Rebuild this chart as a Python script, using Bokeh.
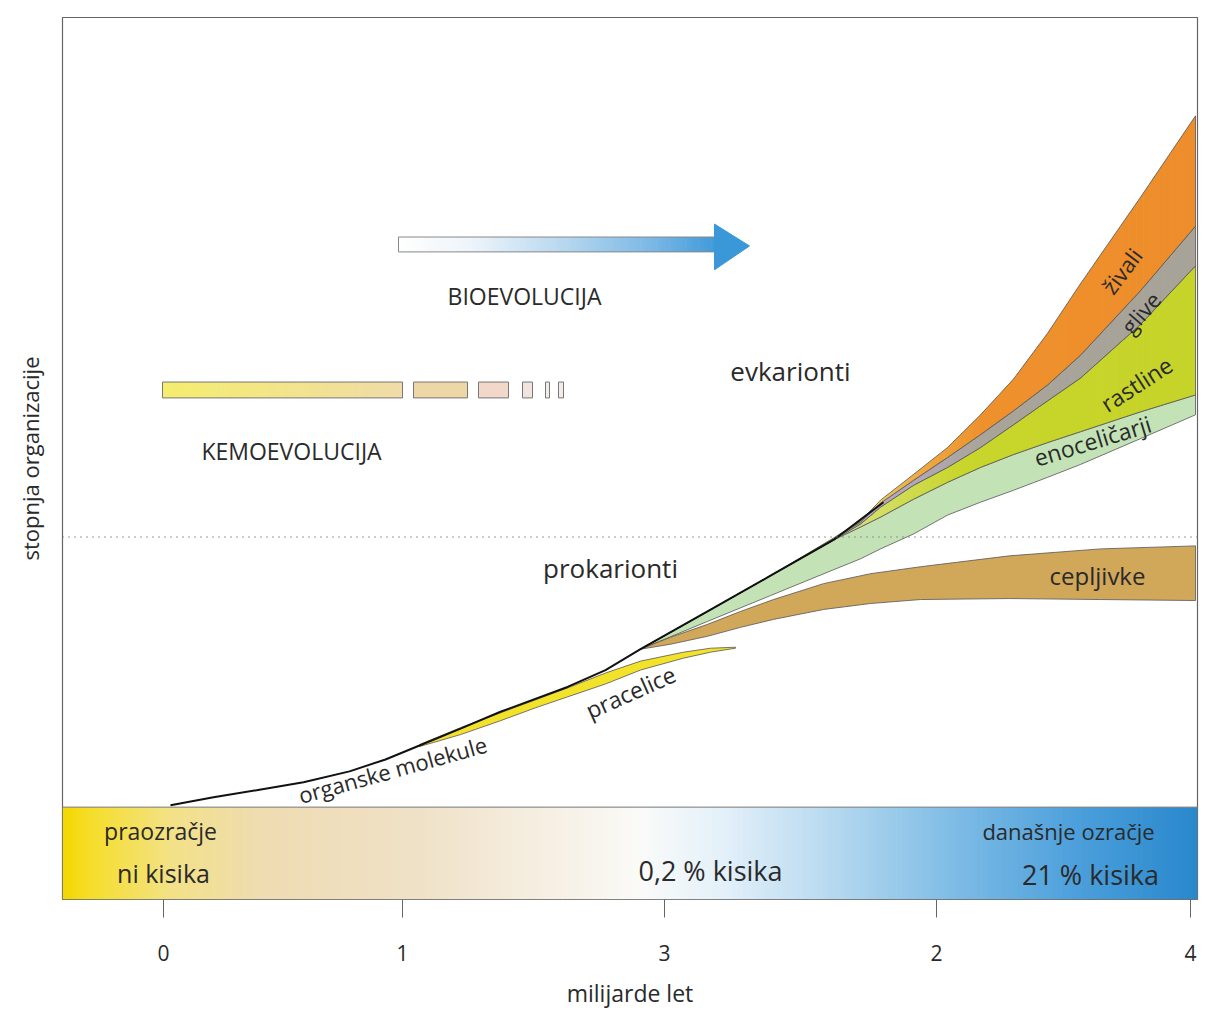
import numpy as np
from bokeh.plotting import figure
from bokeh.models import Range1d, FixedTicker, ColumnDataSource, Span
from bokeh.core.properties import value
from bokeh.embed import file_html
from bokeh.resources import INLINE

# ---------------- data (schematic positions) ----------------
tick_pos = [163, 402, 664, 936, 1190]
tick_labels = ["0", "1", "3", "2", "4"]

# organske molekule (black line)
mol_x = [170, 213, 256, 303, 349, 385, 419, 460, 500, 567, 605, 640, 707, 770, 833, 883]
mol_y = [810, 802, 795, 787, 776, 764, 750, 733, 716, 691, 674, 653, 615, 579, 543, 505]

# pracelice (yellow sliver)
prac_x = [419, 460, 500, 535, 567, 605, 640, 683, 710, 735]
prac_top = [749, 732, 717, 704, 692, 677, 665, 656, 652, 651]
prac_bot = [751, 739, 725, 712, 701, 688, 674, 662, 656, 652]

# cepljivke
cep_x = [640, 670, 707, 740, 773, 823, 870, 920, 1009, 1100, 1195]
cep_top = [653, 641, 628, 615, 603, 587, 577, 570, 559, 552, 549]
cep_bot = [653, 648, 640, 631, 623, 613, 607, 603, 602, 603, 604]

# eukaryote fan
fan_x = [640, 707, 770, 833, 860, 880, 913, 947, 980, 1013, 1047, 1080, 1140, 1195]
eno_bot = [653, 625, 599, 573, 562, 552, 537, 518, 505, 493, 480, 467, 441, 417]
eno_top = [653, 615, 579, 543, 530, 520, 502, 485, 470, 457, 445, 434, 414, 397]
rast_top = [653, 615, 579, 543, 527, 510, 488, 470, 450, 427, 403, 380, 326, 267]
glive_top = [653, 615, 579, 542, 525, 506, 483, 460, 437, 413, 387, 357, 292, 227]
zival_top = [653, 615, 579, 541, 524, 503, 477, 450, 417, 381, 335, 285, 198, 116]

# kemoevolucija bars
kemo_left = [162, 413, 478, 522, 545, 558]
kemo_right = [402, 467, 508, 532, 549, 563]
kemo_colors = [None, "#eed7a6", "#f1d8c8", "#f2e4dc", "#f3ebe5", "#f3ebe5"]
kemo_y = (384, 400)

# bioevolucija arrow
arrow_shaft = (398, 717, 238, 253)
arrow_head_x = [714, 749, 714]
arrow_head_y = [225, 247, 271]

# atmosphere bar
atm_x = (62, 1197)
atm_y = (812, 905)
divider_y = 540

labels = dict(
    text=["BIOEVOLUCIJA", "KEMOEVOLUCIJA",
          "evkarionti", "prokarionti", "cepljivke", "živali", "glive", "rastline",
          "enoceličarji", "organske molekule", "pracelice",
          "praozračje", "ni kisika", "0,2 % kisika", "današnje ozračje", "21 % kisika"],
    x=[524, 291, 790, 610, 1097, 1121, 1140, 1136, 1092, 392, 630, 160, 163, 710, 1068, 1090],
    y=[297, 453, 373, 571, 579, 272, 314, 386, 443, 774, 696, 836, 878, 876, 836, 880],
    angle=[0, 0, 0, 0, 0, 53, 49, 33, 17, 15.5, 24, 0, 0, 0, 0, 0],
    size=["23px", "23px", "26px", "26px", "24px", "22px", "22px", "23px", "23px", "22px",
          "23px", "23px", "25px", "27px", "22px", "27px"])

# ---------------- figure ----------------
W, H = 1201, 1011
p = figure(width=W, height=H, x_range=Range1d(62, 1197), y_range=Range1d(905, 17),
           output_backend="svg", toolbar_location=None,
           min_border_left=62, min_border_right=4, min_border_top=17, min_border_bottom=106)
p.grid.visible = False
p.outline_line_color = "#666666"
p.outline_line_width = 1.2

xa = p.xaxis[0]
xa.ticker = FixedTicker(ticks=tick_pos)
xa.major_label_overrides = {t: l for t, l in zip(tick_pos, tick_labels)}
xa.axis_line_color = None
xa.major_tick_line_color = "#666666"
xa.major_tick_out = 18
xa.major_tick_in = 0
xa.minor_tick_line_color = None
xa.major_label_standoff = 27
xa.major_label_text_font = "Open Sans"
xa.major_label_text_font_size = "21px"
xa.major_label_text_color = "#2a2a2a"
xa.axis_label = "milijarde let"
xa.axis_label_text_font = "Open Sans"
xa.axis_label_text_font_style = "normal"
xa.axis_label_text_font_size = "23px"
xa.axis_label_text_color = "#2a2a2a"
xa.axis_label_standoff = 13

ya = p.yaxis[0]
ya.ticker = FixedTicker(ticks=[])
ya.axis_line_color = None
ya.major_tick_line_color = None
ya.minor_tick_line_color = None
ya.major_label_text_font_size = "0px"
ya.axis_label = "stopnja organizacije"
ya.axis_label_text_font = "Open Sans"
ya.axis_label_text_font_style = "normal"
ya.axis_label_text_font_size = "22px"
ya.axis_label_text_color = "#2a2a2a"
ya.axis_label_standoff = 18


def hex2rgb(c):
    return [int(c[i:i + 2], 16) for i in (1, 3, 5)]


def gradient(stops, xs):
    sx = [s[0] for s in stops]
    rgb = np.array([hex2rgb(s[1]) for s in stops], dtype=float)
    out = []
    for x in xs:
        r, g, b = (np.interp(x, sx, rgb[:, k]) for k in range(3))
        out.append("#%02x%02x%02x" % (int(r), int(g), int(b)))
    return out


# atmosphere gradient bar
edges = np.linspace(atm_x[0], atm_x[1], 228)
cent = (edges[:-1] + edges[1:]) / 2
atm_stops = [(62, "#f4d800"), (95, "#f6df30"), (170, "#f3e287"), (260, "#efdcb2"),
             (420, "#f0e2c8"), (560, "#f7f1e6"), (640, "#fbfbf9"), (720, "#e4f1fa"),
             (820, "#bcdcf1"), (950, "#80bde6"), (1080, "#4b9fdb"), (1197, "#2a88cc")]
p.quad(left=edges[:-1], right=edges[1:] + 0.8, top=atm_y[0], bottom=atm_y[1],
       fill_color=gradient(atm_stops, cent), line_color=None)
p.quad(left=[atm_x[0]], right=[atm_x[1]], top=[atm_y[0]], bottom=[atm_y[1]],
       fill_color=None, line_color="#777777", line_width=1)

# dotted divider
p.add_layout(Span(location=divider_y, dimension="width", line_color="#777777",
                  line_width=1.5, line_dash="1 5"))

# kemoevolucija bars
k0 = np.linspace(kemo_left[0], kemo_right[0], 80)
kc = (k0[:-1] + k0[1:]) / 2
p.quad(left=k0[:-1], right=k0[1:] + 0.6, top=kemo_y[0], bottom=kemo_y[1],
       fill_color=gradient([(kemo_left[0], "#f5ee6e"), (kemo_right[0], "#f0dca8")], kc),
       line_color=None)
p.quad(left=kemo_left[1:], right=kemo_right[1:], top=kemo_y[0], bottom=kemo_y[1],
       fill_color=kemo_colors[1:], line_color=None)
p.quad(left=kemo_left, right=kemo_right, top=kemo_y[0], bottom=kemo_y[1],
       fill_color=None, line_color="#777777", line_width=1)

# bioevolucija arrow
a0 = np.linspace(arrow_shaft[0], arrow_shaft[1], 100)
ac = (a0[:-1] + a0[1:]) / 2
p.quad(left=a0[:-1], right=a0[1:] + 0.6, top=arrow_shaft[2], bottom=arrow_shaft[3],
       fill_color=gradient([(398, "#ffffff"), (470, "#eef5fb"), (560, "#b9d9f0"),
                            (650, "#7cb9e6"), (717, "#3f9ad9")], ac), line_color=None)
p.quad(left=[arrow_shaft[0]], right=[arrow_shaft[1]], top=[arrow_shaft[2]],
       bottom=[arrow_shaft[3]], fill_color=None, line_color="#888888", line_width=1)
p.patch(arrow_head_x, arrow_head_y, fill_color="#3b98d8", line_color="#3b98d8")


def band(x, top, bot, color, stops=None):
    x = np.asarray(x, float)
    top = np.asarray(top, float)
    bot = np.asarray(bot, float)
    if stops is None:
        p.patch(list(x) + list(x)[::-1], list(top) + list(bot)[::-1],
                fill_color=color, line_color="#555555", line_width=0.8)
        return
    # horizontal colour fade (styling only): thin strips with their own colours
    se = np.linspace(x[0], x[-1], 160)
    xs, ys = [], []
    for a, b in zip(se[:-1], se[1:] + 0.7):
        b = min(b, x[-1])
        ta, tb = np.interp([a, b], x, top)
        ba, bb = np.interp([a, b], x, bot)
        xs.append([a, b, b, a])
        ys.append([ta, tb, bb, ba])
    cols = gradient(stops, (se[:-1] + se[1:]) / 2)
    p.patches(xs, ys, fill_color=cols, line_color=None)
    p.patch(list(x) + list(x)[::-1], list(top) + list(bot)[::-1],
            fill_color=None, line_color="#555555", line_width=0.8)


band(fan_x, eno_top, eno_bot, "#c3e3b6")
band(fan_x, rast_top, eno_top, "#c9d62b",
     stops=[(640, "#dce69a"), (860, "#d6e070"), (960, "#c9d62b"), (1195, "#c6d42a")])
band(fan_x, glive_top, rast_top, "#a9a59b",
     stops=[(640, "#bcaed0"), (900, "#b4a8c0"), (980, "#a9a59b"), (1195, "#a7a399")])
band(fan_x, zival_top, glive_top, "#ef8f2c",
     stops=[(640, "#e6dc7a"), (870, "#e9cf60"), (920, "#eeaa40"), (980, "#ef922e"),
            (1195, "#ee8d2b")])
band(cep_x, cep_top, cep_bot, "#d1a75a")
band(prac_x, prac_top, prac_bot, "#f2e22a")

p.line(mol_x, mol_y, line_color="#111111", line_width=2)

src = ColumnDataSource(labels)
p.text(x="x", y="y", text="text", angle="angle", angle_units="deg", source=src,
       text_font=value("Open Sans"), text_font_size="size",
       text_align="center", text_baseline="middle", text_color="#2a2a2a")

open("out.html", "w").write(file_html(p, INLINE))
